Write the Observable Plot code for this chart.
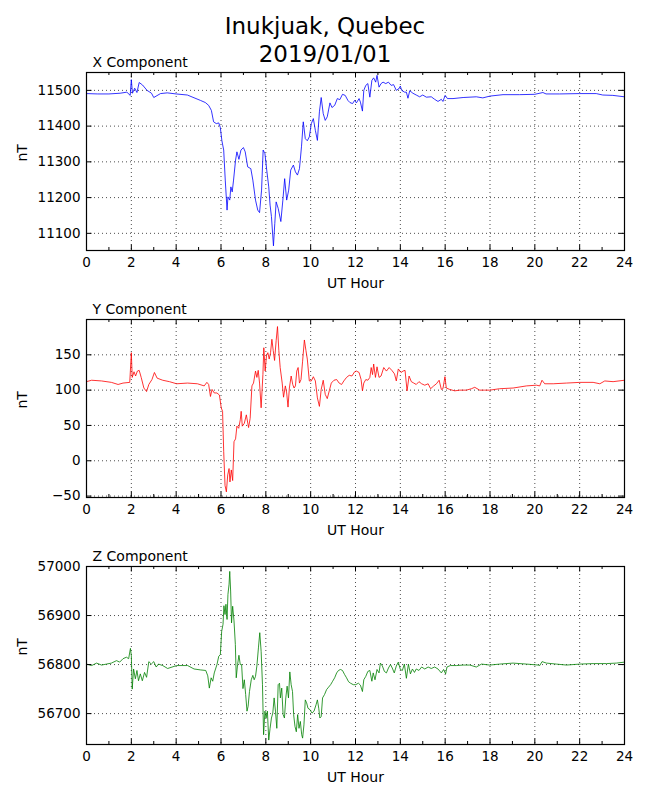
<!DOCTYPE html>
<html><head><meta charset="utf-8">
<script src="https://cdn.jsdelivr.net/npm/d3@7"></script>
<script src="https://cdn.jsdelivr.net/npm/@observablehq/plot@0.6"></script>
<style>
body{margin:0;background:#fff;font-family:"DejaVu Sans",sans-serif;}
#fig{position:relative;width:650px;height:800px;background:#fff;}
.title{position:absolute;left:0;top:12px;width:650px;text-align:center;font-size:23px;line-height:28px;color:#000;z-index:5;}
.panel{position:absolute;left:0;}
</style></head><body>
<div id="fig"><div class="title">Inukjuak, Quebec<br>2019/01/01</div></div>
<script>
const xTickHours = [0,2,4,6,8,10,12,14,16,18,20,22,24];
const xMinorHours = [1,3,5,7,9,11,13,15,17,19,21,23];

const xHours = [0,0.5,1.0,1.5,1.8,1.95,2.0,2.05,2.15,2.25,2.35,2.5,2.7,2.9,3.0,3.3,3.6,4.0,4.5,5.08,5.3,5.45,5.57,5.67,5.79,5.9,5.97,6.04,6.12,6.19,6.27,6.31,6.39,6.44,6.5,6.56,6.65,6.71,6.8,6.89,7.0,7.08,7.19,7.33,7.42,7.54,7.64,7.72,7.81,7.88,7.96,8.04,8.13,8.19,8.25,8.34,8.4,8.46,8.55,8.67,8.76,8.84,8.93,9.02,9.11,9.23,9.32,9.41,9.5,9.59,9.67,9.76,9.85,9.94,10.03,10.12,10.21,10.3,10.39,10.47,10.56,10.65,10.74,10.86,10.95,11.07,11.19,11.3,11.42,11.54,11.66,11.75,11.87,11.96,12.04,12.16,12.22,12.31,12.37,12.46,12.55,12.64,12.73,12.81,12.9,12.96,13.05,13.14,13.23,13.35,13.47,13.59,13.7,13.82,13.94,14.0,14.06,14.19,14.27,14.34,14.42,14.56,14.71,14.86,15.0,15.16,15.38,15.53,15.68,15.83,15.9,16.0,16.1,16.35,16.8,17.39,17.68,18.0,18.58,19.32,20.0,20.36,20.5,21.1,22.0,22.74,23.03,23.48,24.0];
const xValues = [11491,11490,11490,11492,11495,11486,11530,11492,11506,11494,11522,11515,11500,11492,11480,11491,11493,11490,11487,11472,11466,11458,11444,11412,11407,11409,11396,11359,11333,11249,11165,11202,11193,11230,11216,11249,11305,11328,11307,11333,11340,11328,11286,11281,11249,11193,11165,11158,11221,11333,11323,11277,11230,11179,11147,11065,11128,11188,11170,11133,11193,11253,11193,11221,11277,11291,11272,11263,11281,11342,11412,11365,11359,11370,11407,11421,11388,11360,11440,11480,11435,11416,11426,11465,11452,11458,11477,11474,11489,11486,11472,11466,11463,11472,11465,11477,11467,11442,11500,11514,11519,11481,11528,11535,11523,11542,11509,11519,11523,11519,11523,11514,11516,11500,11505,11512,11500,11495,11495,11478,11499,11492,11487,11482,11487,11481,11482,11475,11469,11475,11469,11486,11477,11477,11480,11482,11479,11484,11488,11488,11489,11494,11490,11490,11491,11491,11487,11486,11482];

const yHours = [0,0.23,0.67,1.11,1.41,1.63,1.93,2.0,2.04,2.12,2.19,2.27,2.35,2.44,2.56,2.68,2.78,2.92,3.03,3.15,3.4,3.7,4.02,4.51,4.95,5.25,5.37,5.45,5.53,5.6,5.7,5.82,5.93,6.01,6.07,6.12,6.18,6.24,6.3,6.36,6.4,6.46,6.52,6.58,6.65,6.71,6.79,6.86,6.9,6.95,7.04,7.13,7.23,7.3,7.38,7.45,7.54,7.6,7.66,7.72,7.79,7.87,7.91,7.97,8.03,8.09,8.15,8.21,8.27,8.33,8.39,8.46,8.52,8.58,8.64,8.73,8.79,8.87,8.93,8.99,9.05,9.13,9.2,9.26,9.32,9.38,9.44,9.5,9.57,9.64,9.72,9.79,9.85,9.94,10.03,10.12,10.21,10.3,10.39,10.47,10.56,10.65,10.74,10.83,10.92,11.04,11.16,11.27,11.38,11.48,11.6,11.72,11.84,11.96,12.04,12.16,12.25,12.31,12.37,12.46,12.55,12.64,12.7,12.76,12.81,12.89,12.96,13.05,13.14,13.26,13.38,13.5,13.62,13.74,13.82,13.91,14.03,14.12,14.21,14.3,14.39,14.49,14.6,14.71,14.83,14.95,15.09,15.24,15.35,15.49,15.61,15.73,15.83,15.9,15.99,16.05,16.2,16.43,16.65,16.95,17.17,17.32,17.54,17.76,17.99,18.43,19.03,19.63,20.07,20.22,20.32,20.44,20.82,21.41,22.01,22.6,22.9,23.12,23.49,24];
const yValues = [112,114,113,111,108,110,111,153,118,126,120,127,128,118,103,98,108,115,125,117,114,112,109,110,109,106,111,108,91,101,96,96,93,75,70,13,-35,-44,-20,-11,-30,-13,-28,27,31,49,46,58,70,49,53,65,47,60,106,110,127,118,128,110,75,122,160,127,149,153,144,153,172,156,142,170,190,156,132,110,90,106,96,76,103,120,108,103,106,127,132,110,115,141,171,156,144,113,113,119,113,89,77,101,114,94,88,99,110,114,115,110,108,113,118,121,120,126,127,125,115,99,110,115,114,118,132,122,137,118,133,118,120,132,127,132,128,123,113,130,125,127,128,99,120,112,110,108,112,109,107,109,102,106,109,114,101,102,119,103,101,99,100,100,102,104,100,100,100,102,103,106,107,106,114,109,109,110,111,111,109,113,112,114];

const zHours = [0,0.23,0.45,0.67,0.89,1.11,1.34,1.48,1.63,1.78,1.88,1.96,2.0,2.04,2.1,2.18,2.25,2.32,2.4,2.49,2.59,2.68,2.78,2.89,3.0,3.11,3.21,3.4,3.62,4.02,4.51,4.8,5.1,5.32,5.41,5.48,5.56,5.63,5.7,5.82,5.9,5.97,6.03,6.09,6.13,6.18,6.22,6.27,6.31,6.36,6.39,6.43,6.47,6.52,6.58,6.64,6.68,6.74,6.8,6.86,6.92,6.98,7.04,7.1,7.16,7.21,7.27,7.35,7.42,7.48,7.54,7.6,7.67,7.73,7.79,7.85,7.9,7.96,8.01,8.07,8.13,8.19,8.25,8.31,8.37,8.43,8.49,8.55,8.61,8.65,8.71,8.77,8.83,8.89,8.95,9.01,9.07,9.13,9.19,9.24,9.3,9.36,9.42,9.48,9.54,9.6,9.64,9.7,9.76,9.82,9.88,9.97,10.06,10.15,10.24,10.3,10.36,10.41,10.47,10.53,10.62,10.71,10.8,10.89,10.98,11.07,11.16,11.24,11.33,11.42,11.51,11.6,11.69,11.78,11.9,12.01,12.13,12.22,12.31,12.37,12.46,12.55,12.64,12.73,12.79,12.87,12.96,13.05,13.11,13.2,13.29,13.38,13.47,13.56,13.64,13.73,13.82,13.91,14.0,14.09,14.18,14.27,14.36,14.45,14.54,14.63,14.71,14.83,14.95,15.09,15.24,15.38,15.53,15.68,15.83,15.93,16.02,16.08,16.23,16.5,16.8,17.1,17.39,17.62,17.99,18.43,19.03,19.63,20.15,20.22,20.32,20.52,20.96,21.41,22.01,22.6,23.2,23.64,24];
const zValues = [56801,56798,56803,56799,56801,56803,56808,56805,56812,56815,56812,56833,56818,56750,56791,56771,56788,56767,56781,56767,56784,56774,56806,56801,56806,56795,56801,56798,56792,56798,56798,56791,56789,56788,56777,56752,56773,56766,56783,56800,56817,56820,56868,56882,56920,56902,56923,56892,56943,56964,56990,56950,56885,56919,56889,56841,56773,56800,56819,56800,56800,56751,56769,56739,56705,56715,56745,56769,56778,56769,56776,56797,56834,56865,56827,56759,56657,56705,56691,56705,56646,56670,56691,56701,56732,56705,56670,56759,56762,56732,56752,56698,56691,56732,56756,56732,56785,56759,56745,56698,56674,56663,56698,56670,56684,56657,56650,56677,56728,56722,56711,56708,56701,56705,56718,56728,56711,56691,56694,56732,56739,56749,56754,56759,56766,56773,56783,56788,56790,56788,56780,56773,56765,56762,56759,56759,56762,56758,56745,56769,56776,56786,56788,56766,56783,56769,56790,56783,56803,56797,56786,56783,56793,56800,56793,56783,56797,56805,56790,56788,56801,56772,56801,56781,56791,56784,56791,56788,56795,56791,56795,56792,56795,56791,56783,56790,56781,56795,56798,56798,56799,56799,56795,56801,56799,56801,56803,56801,56799,56798,56806,56803,56801,56799,56801,56802,56802,56803,56805];

const xTicksNT = [11100,11200,11300,11400,11500];
const yTicksNT = [-50,0,50,100,150];
const zTicksNT = [56700,56800,56900,57000];

const panels = [
  {name: "X Component", hours: xHours, values: xValues, color: "#0000ff", domain: [11052, 11550], ticks: xTicksNT, top: 50},
  {name: "Y Component", hours: yHours, values: yValues, color: "#ff0000", domain: [-52, 200], ticks: yTicksNT, top: 297},
  {name: "Z Component", hours: zHours, values: zValues, color: "#008000", domain: [56637, 57000], ticks: zTicksNT, top: 544}
];

const fmt = d => d < 0 ? "\u2212" + Math.abs(d) : String(d);
const FH = 178, FW = 538;
const fig = document.getElementById("fig");
const grid = {stroke: "black", strokeOpacity: 1, strokeWidth: 0.7, strokeDasharray: "1,3"};
const tk = {stroke: "black", strokeWidth: 1};

for (const p of panels) {
  const data = p.hours.map((h, i) => ({h, v: p.values[i]}));
  const svg = Plot.plot({
    width: 650, height: 245,
    marginLeft: 86, marginRight: 26, marginTop: 22, marginBottom: 45,
    style: {fontFamily: "DejaVu Sans", fontSize: "13.5px", color: "black", background: "transparent", overflow: "visible"},
    x: {domain: [0, 24], label: null},
    y: {domain: p.domain, label: null},
    marks: [
      Plot.gridX(xTickHours, grid),
      Plot.gridY(p.ticks, grid),
      Plot.line(data, {x: "h", y: "v", stroke: p.color, strokeWidth: 0.8}),
      Plot.ruleX(xTickHours, {...tk, insetTop: FH - 5.5}),
      Plot.ruleX(xTickHours, {...tk, insetBottom: FH - 5.5}),
      Plot.ruleX(xMinorHours, {...tk, insetTop: FH - 3}),
      Plot.ruleX(xMinorHours, {...tk, insetBottom: FH - 3}),
      Plot.ruleY(p.ticks, {...tk, insetRight: FW - 5.5}),
      Plot.ruleY(p.ticks, {...tk, insetLeft: FW - 5.5}),
      Plot.frame({stroke: "black", strokeWidth: 1.2}),
      Plot.axisX(xTickHours, {anchor: "bottom", tickSize: 0, tickPadding: 7, fontSize: 13.5, label: null, tickFormat: d => String(d)}),
      Plot.axisY(p.ticks, {anchor: "left", tickSize: 0, tickPadding: 6, fontSize: 13.5, label: null, tickFormat: fmt}),
      Plot.text(["UT Hour"], {frameAnchor: "bottom", dy: 37, fontSize: 14, fill: "black"}),
      Plot.text(["nT"], {frameAnchor: "left", dx: -64, rotate: -90, fontSize: 14, fill: "black"}),
      Plot.text([p.name], {frameAnchor: "top-left", dx: 6, dy: -6, textAnchor: "start", lineAnchor: "bottom", fontSize: 14, fill: "black"})
    ]
  });
  const div = document.createElement("div");
  div.className = "panel";
  div.style.top = p.top + "px";
  div.appendChild(svg);
  fig.appendChild(div);
}
</script>
</body></html>
